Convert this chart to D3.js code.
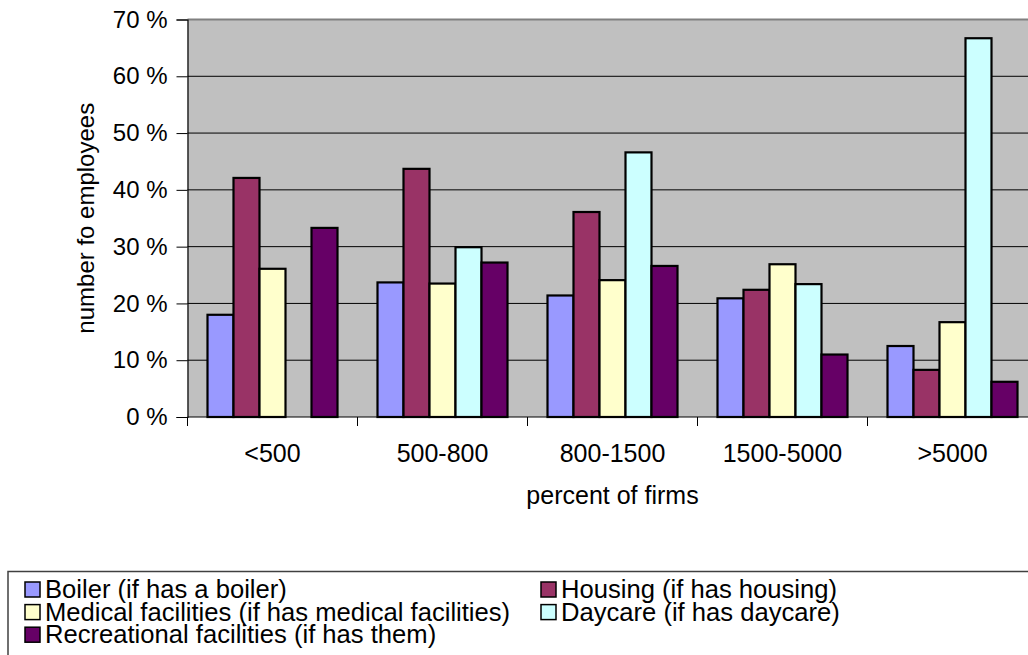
<!DOCTYPE html>
<html>
<head>
<meta charset="utf-8">
<script src="https://cdn.jsdelivr.net/npm/d3@7"></script>
<style>
  body { margin: 0; background: #fff; overflow: hidden; }
  text { font-family: "Liberation Sans", Arial, sans-serif; fill: #000; }
</style>
</head>
<body>
<svg id="chart" width="1028" height="655"></svg>
<script>
  const categories = ["<500", "500-800", "800-1500", "1500-5000", ">5000"];
  const seriesNames = [
    "Boiler (if has a boiler)",
    "Housing (if has housing)",
    "Medical facilities (if has medical facilities)",
    "Daycare (if has daycare)",
    "Recreational facilities (if has them)"
  ];
  const seriesColors = ["#9999FF", "#993366", "#FFFFCC", "#CCFFFF", "#660066"];
  // percent per category, one array per series (null = no bar)
  const boiler = [18.0, 23.7, 21.4, 20.9, 12.5];
  const housing = [42.1, 43.7, 36.1, 22.4, 8.3];
  const medical = [26.1, 23.5, 24.1, 26.9, 16.7];
  const daycare = [null, 29.9, 46.6, 23.4, 66.7];
  const recreational = [33.3, 27.2, 26.6, 11.0, 6.2];
  const yTicks = [0, 10, 20, 30, 40, 50, 60, 70];

  const series = [boiler, housing, medical, daycare, recreational];

  const svg = d3.select("#chart");
  const plotLeft = 187.5, plotRight = 1037.5, plotTop = 19.5, plotBottom = 417;

  const x0 = d3.scaleBand().domain(categories).range([plotLeft, plotRight]);
  const x1 = d3.scaleBand().domain(d3.range(series.length)).range([20, x0.bandwidth() - 20]);
  const y = d3.scaleLinear().domain([0, 70]).range([plotBottom, plotTop]);

  // plot area
  svg.append("rect")
    .attr("x", plotLeft).attr("y", plotTop)
    .attr("width", plotRight - plotLeft).attr("height", plotBottom - plotTop)
    .attr("fill", "#C0C0C0");
  svg.append("line")
    .attr("x1", plotLeft).attr("x2", plotRight)
    .attr("y1", plotTop).attr("y2", plotTop)
    .attr("stroke", "#808080").attr("stroke-width", 2);

  // gridlines
  svg.append("g")
    .selectAll("line")
    .data(yTicks.filter(d => d > 0 && d < 70))
    .enter()
    .append("line")
      .attr("x1", plotLeft).attr("x2", plotRight)
      .attr("y1", d => y(d)).attr("y2", d => y(d))
      .attr("stroke", "#000").attr("stroke-width", 1);

  // bars
  const groups = svg.append("g")
    .selectAll("g")
    .data(categories)
    .enter()
    .append("g")
      .attr("transform", d => `translate(${x0(d)},0)`);

  groups.selectAll("rect")
    .data((c, ci) => series.map((s, si) => ({ si: si, v: s[ci] })).filter(d => d.v != null))
    .enter()
    .append("rect")
      .attr("x", d => x1(d.si))
      .attr("y", d => y(d.v))
      .attr("width", x1.bandwidth())
      .attr("height", d => plotBottom - y(d.v))
      .attr("fill", d => seriesColors[d.si])
      .attr("stroke", "#000")
      .attr("stroke-width", 2.2);

  // y axis
  const yAxis = svg.append("g")
    .attr("transform", `translate(${plotLeft},0)`)
    .call(d3.axisLeft(y).tickValues(yTicks).tickSize(11).tickPadding(9).tickFormat(d => d + " %"));
  yAxis.select(".domain").attr("stroke", "#000").attr("stroke-width", 1.2);
  yAxis.selectAll(".tick line").attr("stroke", "#000");
  yAxis.selectAll(".tick text")
    .style("font-size", "24px")
    .style("font-family", "'Liberation Sans', Arial, sans-serif");

  // x axis
  svg.append("line")
    .attr("x1", plotLeft).attr("x2", plotRight)
    .attr("y1", plotBottom).attr("y2", plotBottom)
    .attr("stroke", "#000").attr("stroke-width", 1.2);
  svg.append("g")
    .selectAll("line")
    .data(categories)
    .enter()
    .append("line")
      .attr("x1", d => x0(d)).attr("x2", d => x0(d))
      .attr("y1", plotBottom).attr("y2", plotBottom + 9)
      .attr("stroke", "#000");
  svg.append("g")
    .selectAll("text")
    .data(categories)
    .enter()
    .append("text")
      .attr("x", d => x0(d) + x0.bandwidth() / 2)
      .attr("y", 462)
      .attr("text-anchor", "middle")
      .style("font-size", "25px")
      .text(d => d);

  // axis titles
  svg.append("text")
    .attr("x", (plotLeft + plotRight) / 2)
    .attr("y", 504)
    .attr("text-anchor", "middle")
    .style("font-size", "25px")
    .text("percent of firms");
  svg.append("text")
    .attr("transform", `translate(94,${(plotTop + plotBottom) / 2}) rotate(-90)`)
    .attr("text-anchor", "middle")
    .style("font-size", "24px")
    .text("number fo employees");

  // legend
  const legend = svg.append("g");
  legend.append("rect")
    .attr("x", 8).attr("y", 571.5)
    .attr("width", 1040).attr("height", 120)
    .attr("fill", "#fff")
    .attr("stroke", "#404040").attr("stroke-width", 1.5);
  const legendPos = [[25, 0], [541, 0], [25, 1], [541, 1], [25, 2]];
  const items = legend.selectAll("g.item")
    .data(seriesNames)
    .enter()
    .append("g")
      .attr("class", "item")
      .attr("transform", (d, i) => `translate(${legendPos[i][0]},${582 + legendPos[i][1] * 22.6})`);
  items.append("rect")
    .attr("width", 15).attr("height", 15)
    .attr("fill", (d, i) => seriesColors[i])
    .attr("stroke", "#000").attr("stroke-width", 1.5);
  items.append("text")
    .attr("x", 20).attr("y", 16)
    .style("font-size", "25.6px")
    .text(d => d);
</script>
</body>
</html>
